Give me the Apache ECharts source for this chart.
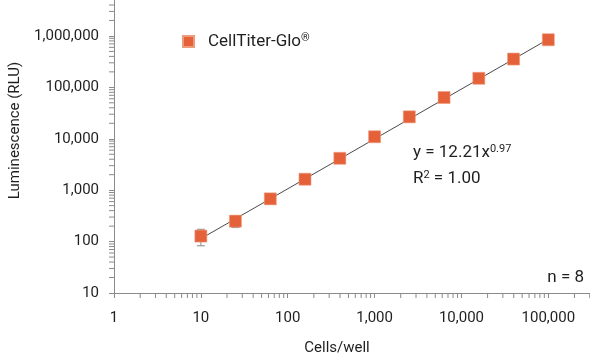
<!DOCTYPE html>
<html><head><meta charset="utf-8">
<script src="https://cdn.jsdelivr.net/npm/echarts@6/dist/echarts.min.js"></script>
<style>html,body{margin:0;padding:0;background:#fff}#c{width:590px;height:361px}</style>
</head><body><div id="c"></div>
<script>
// ---- data ----
const seriesName = 'CellTiter-Glo';
const cellsPerWell = [10, 25, 63, 158, 398, 1000, 2512, 6310, 15849, 39811, 100000];
const luminescence = [128, 250, 678, 1633, 4170, 10940, 26700, 63400, 150000, 355000, 843000];
const luminescenceSD = [45, 62, 40, 90, 200, 500, 1200, 2500, 6000, 14000, 30000];
const fitLineX = [10, 100000];
const fitLineY = [114, 864000];
const xTickValues = [1, 10, 100, 1000, 10000, 100000];
const xTickLabels = ['1', '10', '100', '1,000', '10,000', '100,000'];
const yTickValues = [10, 100, 1000, 10000, 100000, 1000000];
const yTickLabels = ['10', '100', '1,000', '10,000', '100,000', '1,000,000'];
const xMin = 1, xMax = 302000, yMin = 10, yMax = 5000000;

// ---- minor ticks (axis decoration) ----
const xMinor = [], yMinor = [];
for (let d = 0; d <= 5; d++) for (let k = 2; k <= 9; k++) { const v = k * Math.pow(10, d); if (v < xMax) xMinor.push([v, yMin]); }
for (let d = 1; d <= 6; d++) for (let k = 2; k <= 9; k++) { const v = k * Math.pow(10, d); if (v < yMax) yMinor.push([xMin, v]); }

const tickColor = '#8a8a8a';
const textColor = '#1f1f1f';
const markerColor = '#E4613A';
const font = 'Roboto';

function fmt(vals, labels) {
  return function (v) {
    for (let i = 0; i < vals.length; i++) if (Math.abs(Math.log10(v) - Math.log10(vals[i])) < 1e-6) return labels[i];
    return '';
  };
}

const chart = echarts.init(document.getElementById('c'), null, {renderer: 'canvas'});
chart.setOption({
  animation: false,
  backgroundColor: '#fff',
  grid: {left: 114, right: 0, top: 0, bottom: 66.5, containLabel: false},
  legend: {
    data: [{name: seriesName, icon: 'rect'}],
    left: 177, top: 28, itemWidth: 11, itemHeight: 11,
    formatter: function (n) { return '{t|' + n + '}{s|®}'; },
    textStyle: {
      padding: [0, 0, 0, 9],
      rich: {
        t: {fontSize: 17, fontFamily: font, color: textColor},
        s: {fontSize: 11, fontFamily: font, color: textColor, verticalAlign: 'top', padding: [0, 0, 6, 0]}
      }
    }
  },
  xAxis: {
    type: 'log', logBase: 10, min: xMin, max: xMax,
    name: 'Cells/well', nameLocation: 'middle', nameGap: 48,
    nameTextStyle: {fontSize: 15, fontFamily: font, color: textColor, padding: [0, 30, 0, 0]},
    axisLine: {lineStyle: {color: tickColor, width: 1}},
    axisTick: {show: true, length: 5, lineStyle: {color: tickColor}},
    axisLabel: {formatter: fmt(xTickValues, xTickLabels), margin: 18, fontSize: 15, fontFamily: font, color: textColor, showMaxLabel: false},
    splitLine: {show: false}
  },
  yAxis: {
    type: 'log', logBase: 10, min: yMin, max: yMax,
    name: 'Luminescence (RLU)', nameLocation: 'middle', nameGap: 91,
    nameTextStyle: {fontSize: 15, fontFamily: font, color: textColor, padding: [0, 0, 0, 32]},
    axisLine: {show: true, lineStyle: {color: tickColor, width: 1}},
    axisTick: {show: true, length: 5, lineStyle: {color: tickColor}},
    axisLabel: {formatter: fmt(yTickValues, yTickLabels), margin: 15, fontSize: 15, fontFamily: font, color: textColor, showMaxLabel: false},
    splitLine: {show: false}
  },
  graphic: [
    {type: 'text', left: 413, top: 144, style: {
      text: '{a|y = 12.21x}{b|0.97}',
      rich: {a: {fontSize: 17, fontFamily: font, fill: textColor}, b: {fontSize: 11, fontFamily: font, fill: textColor, verticalAlign: 'top', padding: [0, 0, 7, 0]}}
    }},
    {type: 'text', left: 413, top: 170, style: {
      text: '{a|R}{b|2}{a| = 1.00}',
      rich: {a: {fontSize: 17, fontFamily: font, fill: textColor}, b: {fontSize: 11, fontFamily: font, fill: textColor, verticalAlign: 'top', padding: [0, 0, 7, 0]}}
    }},
    {type: 'text', right: 6, top: 269, style: {text: 'n = 8', fontSize: 17, fontFamily: font, fill: textColor}}
  ],
  series: [
    {
      type: 'custom', name: 'xMinorTicks', silent: true, clip: false, z: 1,
      data: xMinor,
      renderItem: function (params, api) {
        const p = api.coord([api.value(0), api.value(1)]);
        return {type: 'line', shape: {x1: p[0], y1: p[1], x2: p[0], y2: p[1] + 5}, style: {stroke: tickColor, lineWidth: 1}};
      }
    },
    {
      type: 'custom', name: 'yMinorTicks', silent: true, clip: false, z: 1,
      data: yMinor,
      renderItem: function (params, api) {
        const p = api.coord([api.value(0), api.value(1)]);
        return {type: 'line', shape: {x1: p[0] - 5, y1: p[1], x2: p[0], y2: p[1]}, style: {stroke: tickColor, lineWidth: 1}};
      }
    },
    {
      type: 'line', name: 'fit', data: fitLineX.map((x, i) => [x, fitLineY[i]]),
      showSymbol: false, symbol: 'none', lineStyle: {color: '#4a4a4a', width: 1}, z: 2, silent: true
    },
    {
      type: 'custom', name: 'errorBars', silent: true, z: 3,
      data: cellsPerWell.map((x, i) => [x, luminescence[i], luminescence[i] - luminescenceSD[i], luminescence[i] + luminescenceSD[i]]),
      renderItem: function (params, api) {
        const x = api.value(0);
        const lo = api.coord([x, api.value(2)]);
        const hi = api.coord([x, api.value(3)]);
        const w = 4;
        const st = {stroke: '#999', lineWidth: 1.2};
        return {type: 'group', children: [
          {type: 'line', shape: {x1: lo[0], y1: lo[1], x2: hi[0], y2: hi[1]}, style: st},
          {type: 'line', shape: {x1: lo[0] - w, y1: lo[1], x2: lo[0] + w, y2: lo[1]}, style: st},
          {type: 'line', shape: {x1: hi[0] - w, y1: hi[1], x2: hi[0] + w, y2: hi[1]}, style: st}
        ]};
      }
    },
    {
      type: 'scatter', name: seriesName, z: 4,
      data: cellsPerWell.map((x, i) => [x, luminescence[i]]),
      symbol: 'rect', symbolSize: 12,
      itemStyle: {color: markerColor, borderColor: '#EE9A7C', borderWidth: 0.6, opacity: 1}
    }
  ]
});
</script>
</body></html>
